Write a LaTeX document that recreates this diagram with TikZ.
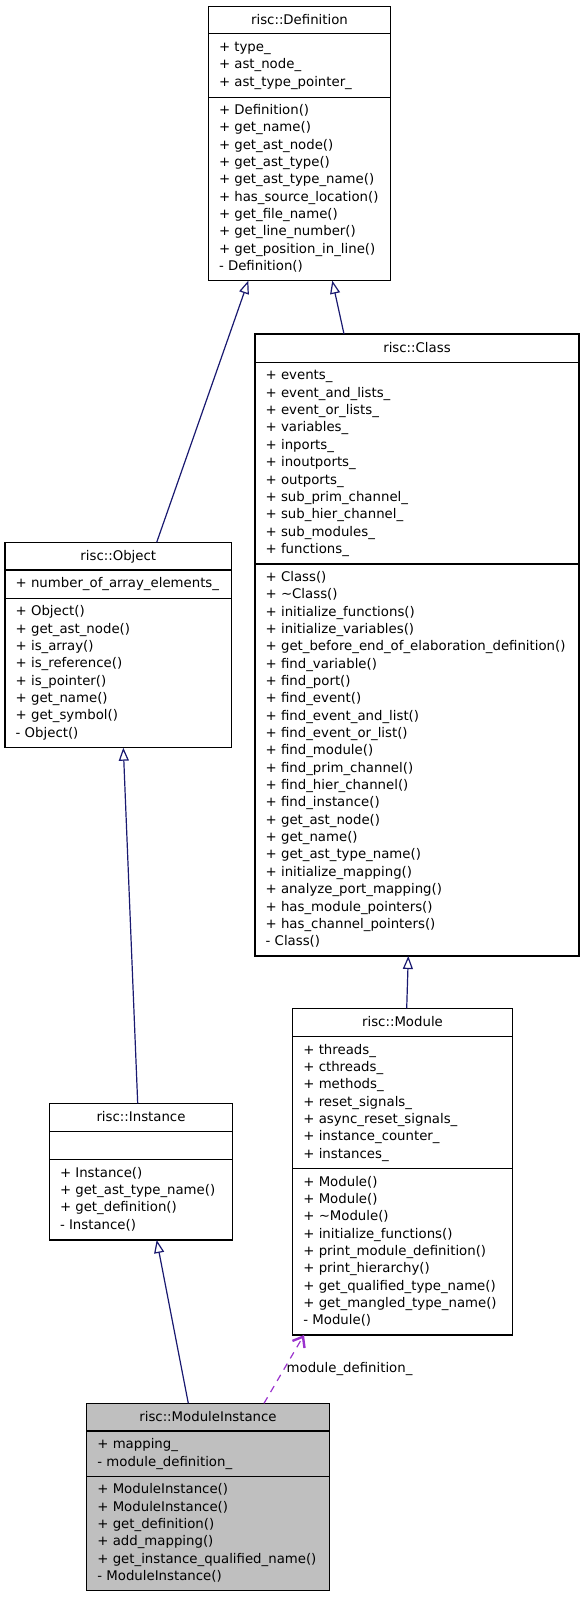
\documentclass[tikz,border=0pt]{standalone}
\usepackage{fontspec}
\setmainfont{DejaVu Sans}
\usetikzlibrary{calc,arrows.meta}
\definecolor{edgeblue}{HTML}{191970}
\definecolor{edgepurple}{HTML}{9A32CD}
\definecolor{mifill}{HTML}{BFBFBF}
\tikzset{
  umlbox/.style={draw=black, line width=1.2pt, inner sep=0pt, outer sep=0pt, anchor=north west},
  umldiv/.style={draw=black, line width=1.2pt},
  umltitle/.style={anchor=base, inner sep=0pt, font=\fontsize{13.3pt}{17.35pt}\selectfont},
  umlmember/.style={anchor=base west, inner sep=0pt, font=\fontsize{13.3pt}{17.35pt}\selectfont},
  genedge/.style={draw=edgeblue, line width=1.2pt, -{Triangle[open, length=13pt, width=10pt, line width=1.2pt]}},
  useedge/.style={draw=edgepurple, line width=1.2pt, dash pattern=on 7pt off 6pt, -{Straight Barb[length=9pt, width=14pt, line width=2.4pt]}},
}
\newcommand\mlist[4]{%
  \foreach \t [count=\i] in {#4} {\node[umlmember] (#1-\i) at (#2, {#3+(\i-1)*17.35}) {\t};}%
}
\begin{document}
\begin{tikzpicture}[x=1pt, y=-1pt]
\useasboundingbox (0,0) rectangle (584,1597);

% ---------- risc::Definition ----------
\node[umlbox, minimum width=182.4pt, minimum height=274pt] (def) at (208.3,6.7) {};
\draw[umldiv] ($(def.north west)+(0,26.6)$) -- ($(def.north east)+(0,26.6)$);
\draw[umldiv] ($(def.north west)+(0,90.6)$) -- ($(def.north east)+(0,90.6)$);
\node[umltitle] (def-title) at (299.5,24.3) {risc::Definition};
\mlist{defa}{218.8}{51.5}{+ type\_, + ast\_node\_, + ast\_type\_pointer\_}
\mlist{defm}{218.8}{114.45}{+ Definition(), + get\_name(), + get\_ast\_node(), + get\_ast\_type(), + get\_ast\_type\_name(), + has\_source\_location(), + get\_file\_name(), + get\_line\_number(), + get\_position\_in\_line(), - Definition()}

% ---------- risc::Class ----------
\node[umlbox, minimum width=324pt, minimum height=622pt] (cls) at (255,334) {};
\draw[umldiv] ($(cls.north west)+(0,28.3)$) -- ($(cls.north east)+(0,28.3)$);
\draw[umldiv] ($(cls.north west)+(0,230)$) -- ($(cls.north east)+(0,230)$);
\node[umltitle] (cls-title) at (417,352.5) {risc::Class};
\mlist{clsa}{265.5}{379.9}{+ events\_, + event\_and\_lists\_, + event\_or\_lists\_, + variables\_, + inports\_, + inoutports\_, + outports\_, + sub\_prim\_channel\_, + sub\_hier\_channel\_, + sub\_modules\_, + functions\_}
\mlist{clsm}{265.5}{581.35}{+ Class(), + \textasciitilde Class(), + initialize\_functions(), + initialize\_variables(), + get\_before\_end\_of\_elaboration\_definition(), + find\_variable(), + find\_port(), + find\_event(), + find\_event\_and\_list(), + find\_event\_or\_list(), + find\_module(), + find\_prim\_channel(), + find\_hier\_channel(), + find\_instance(), + get\_ast\_node(), + get\_name(), + get\_ast\_type\_name(), + initialize\_mapping(), + analyze\_port\_mapping(), + has\_module\_pointers(), + has\_channel\_pointers(), - Class()}

% ---------- risc::Object ----------
\node[umlbox, minimum width=226.7pt, minimum height=205.4pt] (obj) at (5,542.3) {};
\draw[umldiv] ($(obj.north west)+(0,27.7)$) -- ($(obj.north east)+(0,27.7)$);
\draw[umldiv] ($(obj.north west)+(0,56)$) -- ($(obj.north east)+(0,56)$);
\node[umltitle] (obj-title) at (118.3,560.5) {risc::Object};
\mlist{obja}{15.5}{587.7}{+ number\_of\_array\_elements\_}
\mlist{objm}{15.5}{615.8}{+ Object(), + get\_ast\_node(), + is\_array(), + is\_reference(), + is\_pointer(), + get\_name(), + get\_symbol(), - Object()}

% ---------- risc::Instance ----------
\node[umlbox, minimum width=183.4pt, minimum height=136.7pt] (inst) at (49.3,1103.3) {};
\draw[umldiv] ($(inst.north west)+(0,28.4)$) -- ($(inst.north east)+(0,28.4)$);
\draw[umldiv] ($(inst.north west)+(0,56)$) -- ($(inst.north east)+(0,56)$);
\node[umltitle] (inst-title) at (141,1121.7) {risc::Instance};
\mlist{instm}{59.8}{1177.15}{+ Instance(), + get\_ast\_type\_name(), + get\_definition(), - Instance()}

% ---------- risc::Module ----------
\node[umlbox, minimum width=219.6pt, minimum height=326.7pt] (mod) at (292.7,1008.3) {};
\draw[umldiv] ($(mod.north west)+(0,28.4)$) -- ($(mod.north east)+(0,28.4)$);
\draw[umldiv] ($(mod.north west)+(0,160.4)$) -- ($(mod.north east)+(0,160.4)$);
\node[umltitle] (mod-title) at (402.5,1026.7) {risc::Module};
\mlist{moda}{303.2}{1054.2}{+ threads\_, + cthreads\_, + methods\_, + reset\_signals\_, + async\_reset\_signals\_, + instance\_counter\_, + instances\_}
\mlist{modm}{303.2}{1186}{+ Module(), + Module(), + \textasciitilde Module(), + initialize\_functions(), + print\_module\_definition(), + print\_hierarchy(), + get\_qualified\_type\_name(), + get\_mangled\_type\_name(), - Module()}

% ---------- risc::ModuleInstance ----------
\node[umlbox, fill=mifill, minimum width=242.6pt, minimum height=187.4pt] (mi) at (86.7,1403.3) {};
\draw[umldiv] ($(mi.north west)+(0,27.7)$) -- ($(mi.north east)+(0,27.7)$);
\draw[umldiv] ($(mi.north west)+(0,73.4)$) -- ($(mi.north east)+(0,73.4)$);
\node[umltitle] (mi-title) at (208,1421.4) {risc::ModuleInstance};
\mlist{mia}{97.2}{1448.7}{+ mapping\_, - module\_definition\_}
\mlist{mim}{97.2}{1493.85}{+ ModuleInstance(), + ModuleInstance(), + get\_definition(), + add\_mapping(), + get\_instance\_qualified\_name(), - ModuleInstance()}

% ---------- connectors ----------
\draw[genedge] ($(obj.north west)+(151.7,0)$) -- ($(def.south west)+(40,0)$);
\draw[genedge] ($(cls.north west)+(89,0)$) -- ($(def.south west)+(124,0)$);
\draw[genedge] ($(inst.north west)+(88.4,0)$) -- ($(obj.south west)+(118.3,0)$);
\draw[genedge] ($(mod.north west)+(114,0)$) -- ($(cls.south west)+(153.3,0)$);
\draw[genedge] ($(mi.north west)+(101.6,0)$) -- ($(inst.south west)+(107.4,0)$);
\draw[useedge] ($(mi.north west)+(177.3,0)$) -- ($(mod.south west)+(11.3,0)$);
\node[umlmember] (lbl) at (286.5,1372.5) {module\_definition\_};
\end{tikzpicture}
\end{document}
